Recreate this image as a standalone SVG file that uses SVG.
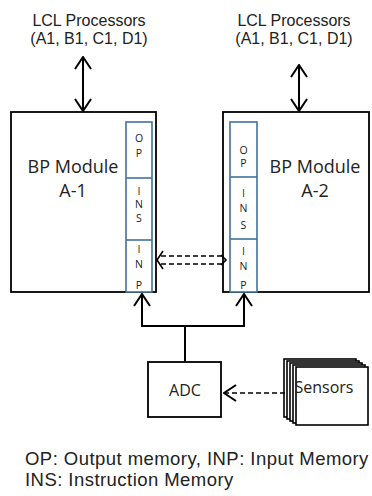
<svg xmlns="http://www.w3.org/2000/svg" width="372" height="496" viewBox="0 0 372 496">
<style>
text{font-family:"Open Sans","Liberation Sans",sans-serif;fill:#222}
.box{fill:#fff;stroke:#000;stroke-width:1.8}
.mem{fill:#fff;stroke:#41719C;stroke-width:1.6}
.div{stroke:#41719C;stroke-width:1.6}
.lbl{font-size:16px;text-anchor:middle}
.top{font-family:"Liberation Sans",Arial,sans-serif;font-size:16px;text-anchor:middle}
.big{font-size:18px;text-anchor:middle}
.ml{font-size:10.5px;text-anchor:middle}
.leg{font-family:"Liberation Sans",Arial,sans-serif;font-size:18.5px;letter-spacing:0.45px}
.conn{fill:none;stroke:#000;stroke-width:2}
.dash{fill:none;stroke:#000;stroke-width:1.6;stroke-dasharray:5 3}
.sens{fill:#fff;stroke:#000;stroke-width:1.6}
</style>
<defs>
<marker id="arr" viewBox="0 0 14 18" refX="13" refY="9" markerWidth="14" markerHeight="18" markerUnits="userSpaceOnUse" orient="auto-start-reverse">
<path d="M1,1 L13,9 L1,17" fill="none" stroke="#000" stroke-width="2" stroke-dasharray="none"/>
</marker>
</defs>

<g id="lcl-left">
<text class="top" x="89" y="26">LCL Processors</text>
<text class="top" x="89" y="44">(A1, B1, C1, D1)</text>
</g>
<g id="lcl-right">
<text class="top" x="294" y="26">LCL Processors</text>
<text class="top" x="294" y="44">(A1, B1, C1, D1)</text>
</g>

<g id="bp-a1">
<rect class="box" x="11" y="112" width="145" height="180"/>
<text class="big" x="73" y="173">BP Module</text>
<text class="big" x="73" y="197">A-1</text>
<rect class="mem" x="126" y="122" width="26" height="170"/>
<line class="div" x1="126" y1="178" x2="152" y2="178"/>
<line class="div" x1="126" y1="240" x2="152" y2="240"/>
<text class="ml" x="139" y="142">O</text>
<text class="ml" x="139" y="157">P</text>
<text class="ml" x="139" y="195">I</text>
<text class="ml" x="139" y="208">N</text>
<text class="ml" x="139" y="222">S</text>
<text class="ml" x="139" y="253">I</text>
<text class="ml" x="139" y="268">N</text>
<text class="ml" x="139" y="289">P</text>
</g>

<g id="bp-a2">
<rect class="box" x="223" y="112" width="146" height="180"/>
<text class="big" x="315" y="173">BP Module</text>
<text class="big" x="315" y="197">A-2</text>
<rect class="mem" x="230" y="122" width="27" height="170"/>
<line class="div" x1="230" y1="177" x2="257" y2="177"/>
<line class="div" x1="230" y1="239" x2="257" y2="239"/>
<text class="ml" x="243.5" y="154">O</text>
<text class="ml" x="243.5" y="167">P</text>
<text class="ml" x="243.5" y="197">I</text>
<text class="ml" x="243.5" y="212">N</text>
<text class="ml" x="243.5" y="229">S</text>
<text class="ml" x="243.5" y="255">I</text>
<text class="ml" x="243.5" y="270">N</text>
<text class="ml" x="243.5" y="289">P</text>
</g>

<g id="adc">
<rect class="box" x="148" y="362" width="73" height="55"/>
<text class="lbl" x="185" y="396">ADC</text>
</g>

<g id="sensors">
<rect class="sens" x="284" y="359" width="72" height="58"/>
<rect class="sens" x="287" y="361" width="72" height="58"/>
<rect class="sens" x="290" y="363" width="72" height="58"/>
<rect class="sens" x="293" y="365" width="72" height="58"/>
<rect class="sens" x="296" y="367" width="72" height="58"/>
<text class="lbl" x="324" y="393">Sensors</text>
</g>

<g id="connectors">
<line class="conn" x1="83" y1="57" x2="83" y2="111" marker-start="url(#arr)" marker-end="url(#arr)"/>
<line class="conn" x1="299" y1="65" x2="299" y2="111" marker-start="url(#arr)" marker-end="url(#arr)"/>
<path class="conn" d="M142,294 L142,326 L244,326 L244,294" marker-start="url(#arr)" marker-end="url(#arr)"/>
<line class="conn" x1="185" y1="326" x2="185" y2="362"/>
<line class="dash" x1="285" y1="393" x2="224" y2="393" marker-end="url(#arr)"/>
<line class="dash" x1="161" y1="256" x2="222" y2="256"/>
<line class="dash" x1="161" y1="264" x2="222" y2="264"/>
<polyline points="163,251 157,260 163,269" fill="none" stroke="#000" stroke-width="1.6"/>
<polyline points="221,255 226,260 221,265" fill="none" stroke="#000" stroke-width="1.6"/>
</g>

<g id="legend">
<text class="leg" x="25" y="465">OP: Output memory, INP: Input Memory</text>
<text class="leg" x="25" y="486">INS: Instruction Memory</text>
</g>
</svg>
